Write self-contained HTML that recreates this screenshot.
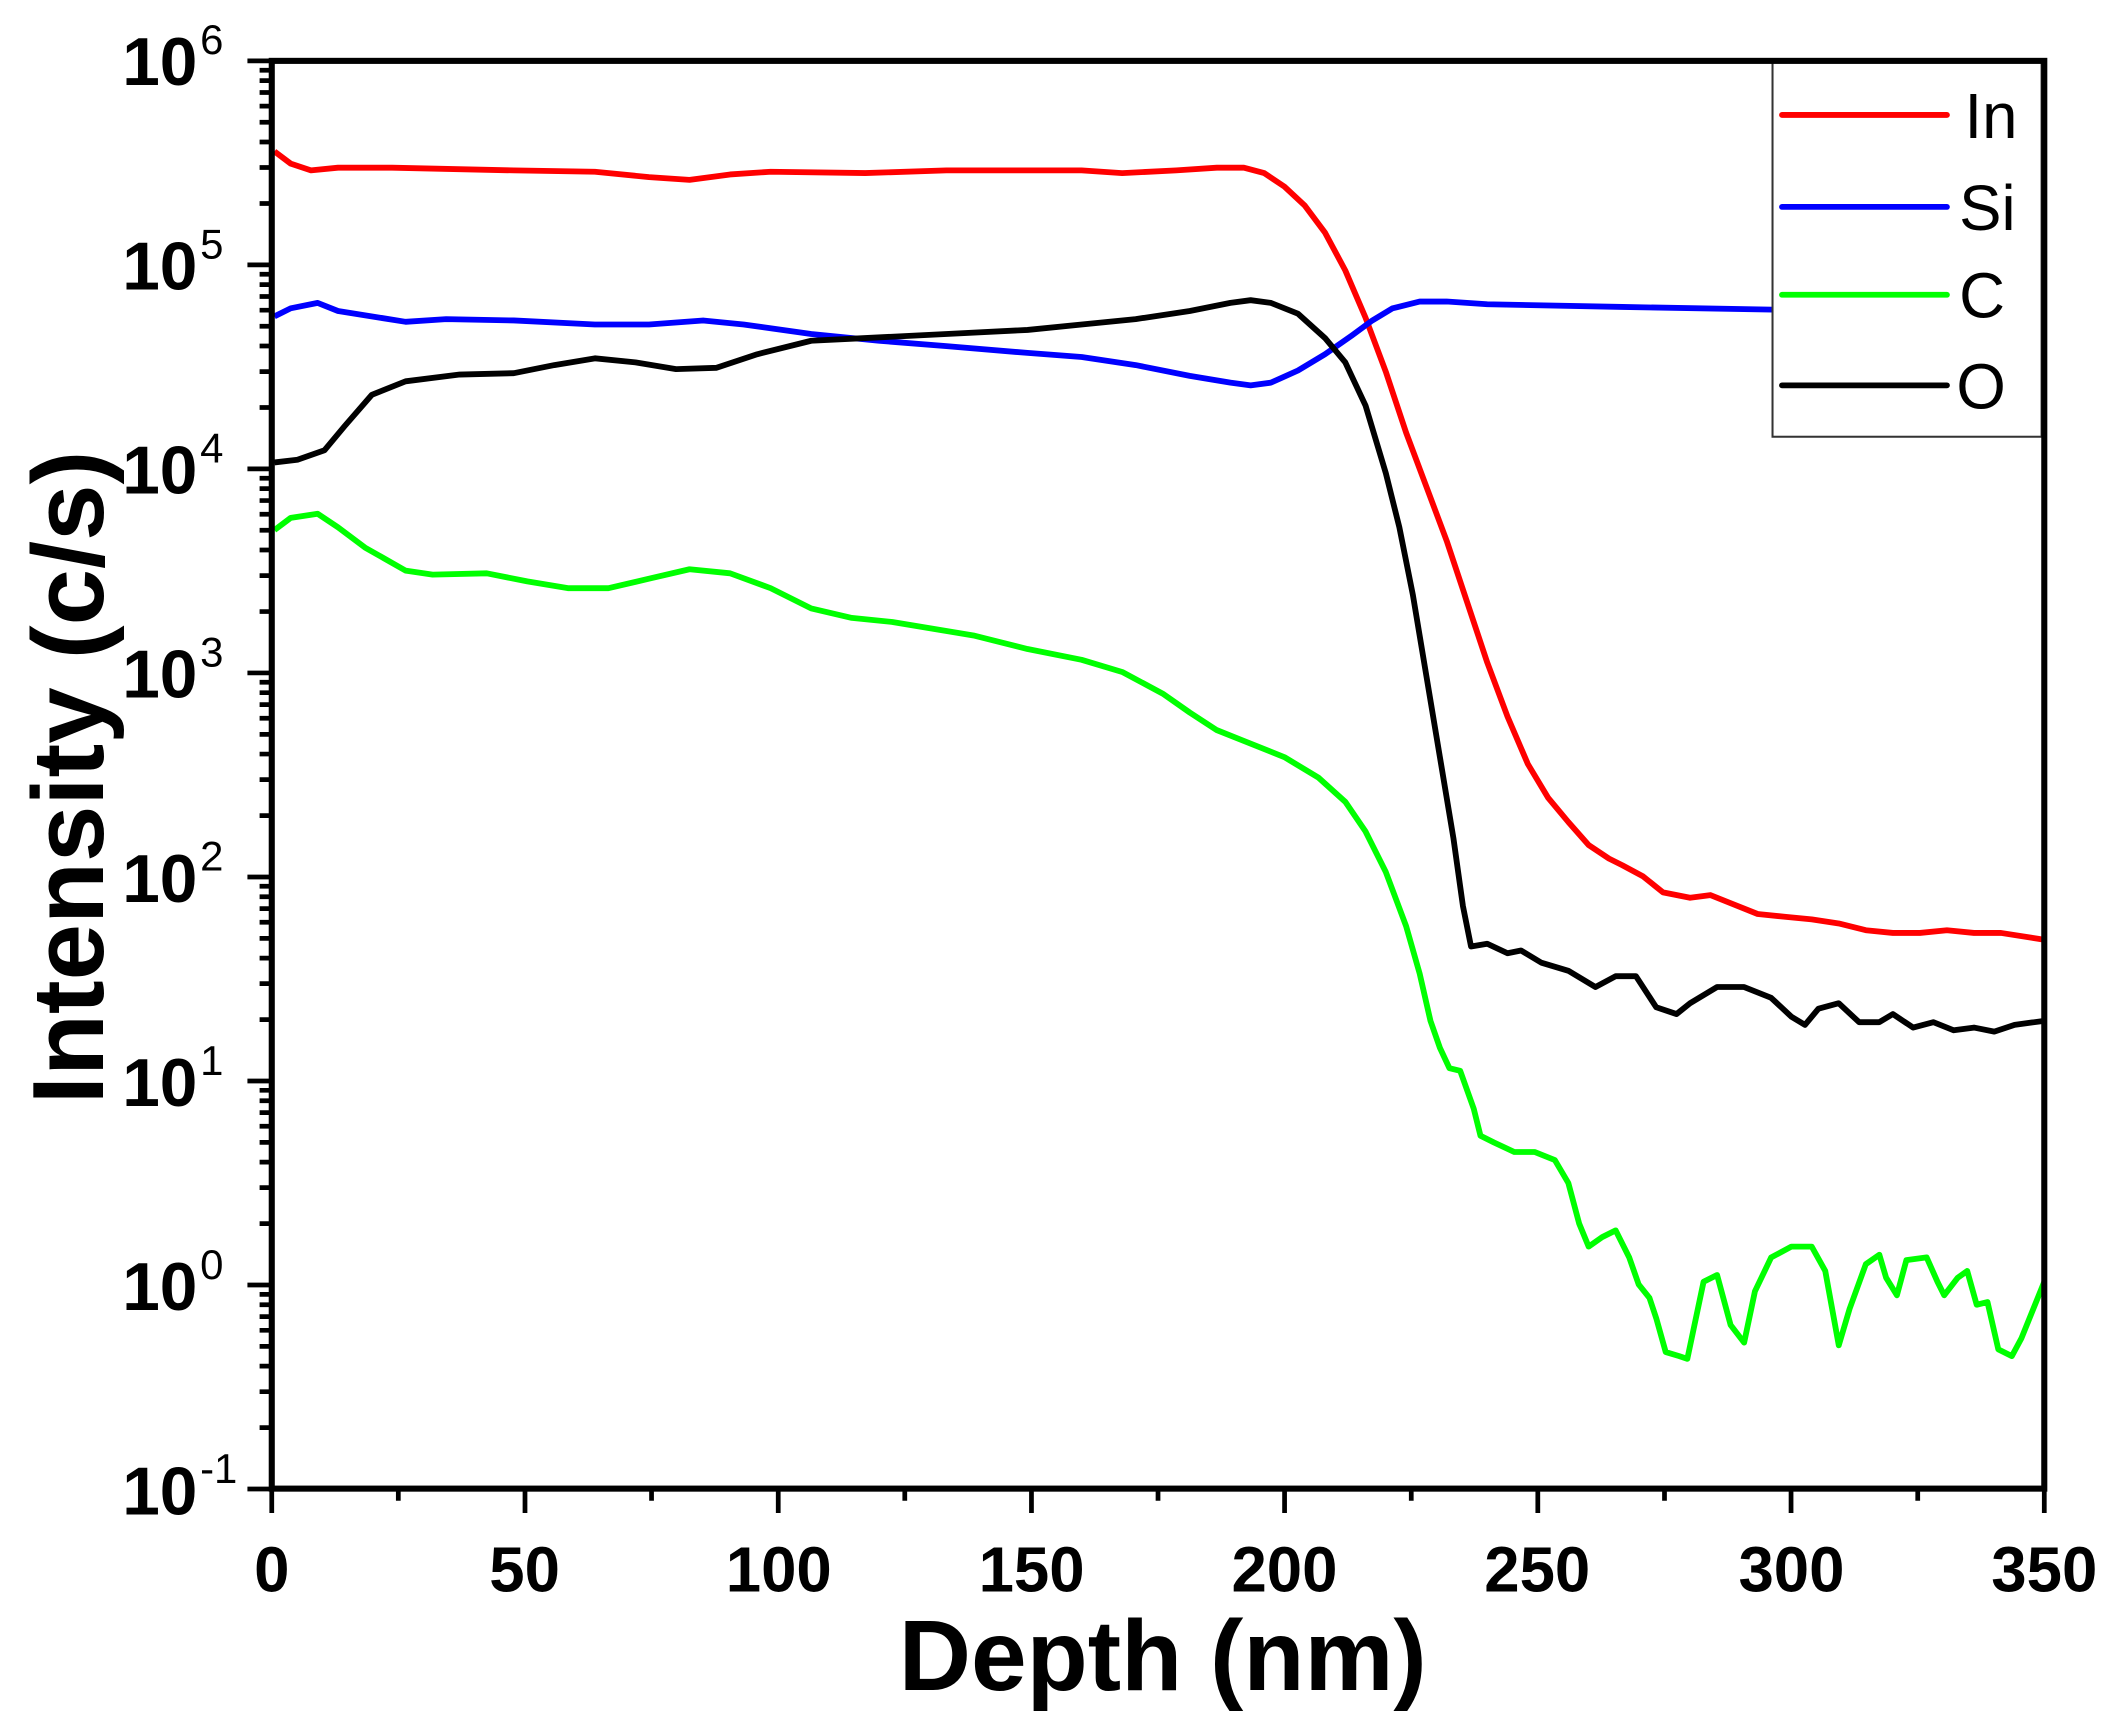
<!DOCTYPE html>
<html><head><meta charset="utf-8"><style>html,body{margin:0;padding:0;background:#fff}svg{display:block}</style></head>
<body>
<svg xmlns="http://www.w3.org/2000/svg" width="2120" height="1735" viewBox="0 0 1568 1283.2" font-family="'Liberation Sans', Arial, sans-serif">
<rect width="1568" height="1283.2" fill="#fff"/>
<g fill="none" stroke-linejoin="round" stroke-width="4.3">
<polyline stroke="#ff0000" points="203,112 215,121 230,126 250,124 290,124 380,126 440,127 480,131 510,133 540,129 570,127 640,128 700,126 800,126 830,128 870,126 900,124 920,124 935,128 950,138 965,152 980,172 995,200 1010,235 1025,275 1040,320 1055,360 1070,400 1085,445 1100,490 1115,530 1130,565 1145,590 1160,608 1175,625 1190,635 1200,640 1215,648 1230,660 1250,664 1265,662 1280,668 1300,676 1320,678 1340,680 1360,683 1380,688 1400,690 1420,690 1440,688 1460,690 1480,690 1512,695"/>
<polyline stroke="#0000ff" points="203,234 215,228 235,224 250,230 300,238 330,236 380,237 440,240 480,240 520,237 550,240 600,247 650,252 700,256 760,261 800,264 840,270 880,278 910,283 925,285 940,283 960,274 980,262 1000,248 1015,237 1030,228 1050,223 1070,223 1100,225 1200,227 1311,229"/>
<polyline stroke="#000000" points="203,342 220,340 240,333 255,315 275,292 300,282 340,277 380,276 410,270 440,265 470,268 500,273 530,272 560,262 600,252 640,250 700,247 760,244 800,240 840,236 880,230 910,224 925,222 940,224 960,232 980,250 995,268 1010,300 1025,350 1035,390 1045,440 1055,500 1065,560 1075,620 1082,670 1088,700 1100,698 1115,705 1125,703 1140,712 1160,718 1180,730 1195,722 1210,722 1225,745 1240,750 1250,742 1270,730 1290,730 1310,738 1325,752 1335,758 1345,746 1360,742 1375,756 1390,756 1400,750 1415,760 1430,756 1445,762 1460,760 1475,763 1490,758 1512,755"/>
<polyline stroke="#00ff00" points="203,392 215,383 235,380 250,390 270,405 300,422 320,425 360,424 390,430 420,435 450,435 480,428 510,421 540,424 570,435 600,450 630,457 660,460 690,465 720,470 760,480 800,488 830,497 860,513 880,527 900,540 920,548 950,560 975,575 995,593 1010,615 1025,645 1040,685 1050,720 1058,755 1065,775 1072,790 1080,792 1090,820 1095,840 1105,845 1120,852 1135,852 1150,858 1160,875 1168,905 1175,922 1185,915 1195,910 1205,930 1212,950 1220,960 1225,975 1232,1000 1242,1003 1248,1005 1260,948 1270,943 1280,980 1290,993 1298,955 1310,930 1325,922 1340,922 1350,940 1360,995 1368,968 1380,935 1390,928 1395,945 1403,958 1410,932 1425,930 1433,948 1438,958 1448,945 1455,940 1462,965 1470,963 1478,998 1488,1003 1495,990 1512,948"/>
</g>
<rect x="1311" y="45" width="199" height="278" fill="#fff" stroke="#333" stroke-width="1.5"/>
<g stroke-width="4.3" stroke-linecap="round">
<line x1="1318" y1="85" x2="1440" y2="85" stroke="#ff0000"/>
<line x1="1318" y1="153" x2="1440" y2="153" stroke="#0000ff"/>
<line x1="1318" y1="218" x2="1440" y2="218" stroke="#00ff00"/>
<line x1="1318" y1="285" x2="1440" y2="285" stroke="#000"/>
</g>
<g font-size="47" fill="#000">
<text x="1453" y="102">In</text>
<text x="1449" y="170">Si</text>
<text x="1449" y="235">C</text>
<text x="1447" y="302">O</text>
</g>
<rect x="201" y="45" width="1311" height="1056" fill="none" stroke="#000" stroke-width="4.5"/>
<g stroke="#000" stroke-width="3.5">
<path d="M201,1101v18 M388.3,1101v18 M575.6,1101v18 M762.9,1101v18 M950.1,1101v18 M1137.4,1101v18 M1324.7,1101v18 M1512,1101v18 M294.6,1101v9 M481.9,1101v9 M669.2,1101v9 M856.5,1101v9 M1043.8,1101v9 M1231.1,1101v9 M1418.4,1101v9"/>
<path id="yt" d=""/>
</g>
<script>
(function(){
var d="";var top=45,dec=150.9;
for(var k=0;k<=7;k++){var y=top+k*dec;d+="M201,"+y.toFixed(1)+"h-18 ";
 if(k<7){for(var m=2;m<=9;m++){var yy=top+(k+1)*dec-Math.log10(m)*dec;d+="M201,"+yy.toFixed(1)+"h-9 ";}}}
document.getElementById("yt").setAttribute("d",d);
})();
</script>
<g font-weight="bold" font-size="50" fill="#000" text-anchor="end">
<text x="146" y="63">10</text><text x="146" y="214">10</text><text x="146" y="365">10</text><text x="146" y="516">10</text><text x="146" y="667">10</text><text x="146" y="818">10</text><text x="146" y="969">10</text><text x="146" y="1120">10</text>
</g>
<g font-size="31" fill="#000">
<text x="148" y="40">6</text><text x="148" y="191">5</text><text x="148" y="342">4</text><text x="148" y="493">3</text><text x="148" y="644">2</text><text x="148" y="795">1</text><text x="148" y="946">0</text><text x="148" y="1097">-1</text>
</g>
<g font-weight="bold" font-size="47" fill="#000" text-anchor="middle">
<text x="201" y="1177">0</text><text x="388" y="1177">50</text><text x="576" y="1177">100</text><text x="763" y="1177">150</text><text x="950" y="1177">200</text><text x="1137" y="1177">250</text><text x="1325" y="1177">300</text><text x="1512" y="1177">350</text>
</g>
<text x="860" y="1250" font-weight="bold" font-size="74" text-anchor="middle" fill="#000">Depth (nm)</text>
<text transform="translate(76,575) rotate(-90)" font-weight="bold" font-size="75" text-anchor="middle" fill="#000">Intensity (c/s)</text>
</svg>
</body></html>
